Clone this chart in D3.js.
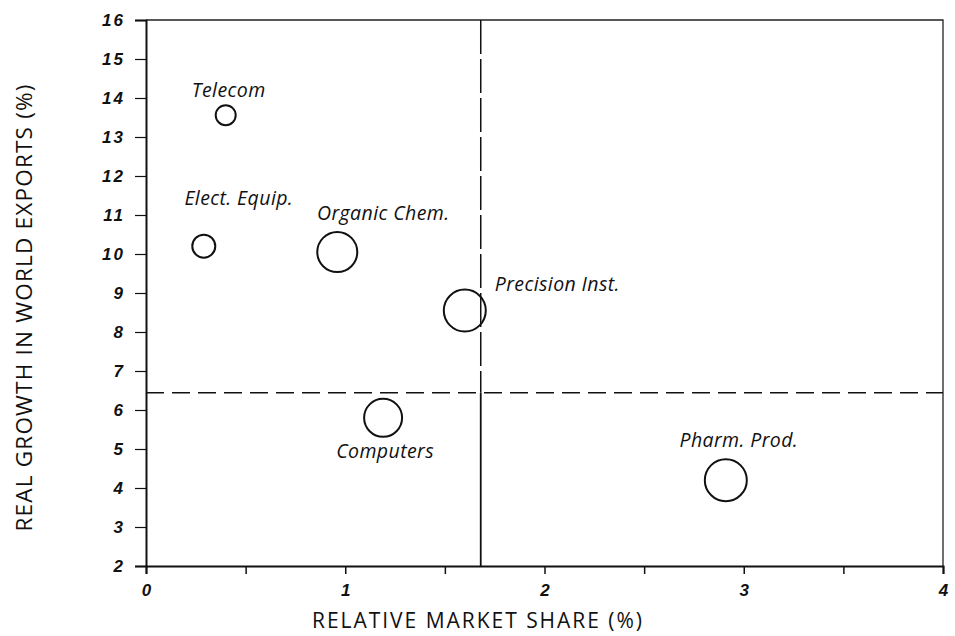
<!DOCTYPE html>
<html>
<head>
<meta charset="utf-8">
<script src="https://cdn.jsdelivr.net/npm/d3@7"></script>
<style>
  body { margin: 0; background: #fff; }
  svg { display: block; }
  .tick text { font-family: "Liberation Sans", Arial, sans-serif; font-weight: bold; font-style: italic; font-size: 17px; fill: #111; }
  .label { font-family: "Open Sans", Lato, sans-serif; font-style: italic; font-size: 19.5px; letter-spacing: 0.4px; fill: #111; }
  .title { font-family: "Open Sans", Lato, sans-serif; fill: #111; }
</style>
</head>
<body>
<div id="chart"></div>
<script>
const categories = ['Telecom', 'Elect. Equip.', 'Organic Chem.', 'Precision Inst.', 'Computers', 'Pharm. Prod.']
const marketShare = [0.40, 0.29, 0.96, 1.60, 1.19, 2.91]
const exportGrowth = [13.56, 10.2, 10.05, 8.55, 5.8, 4.2]
const bubbleSize = [10, 11.5, 20, 21, 19, 21]
const xTicks = [0, 0.5, 1, 1.5, 2, 2.5, 3, 3.5, 4]
const yTicks = [2, 3, 4, 5, 6, 7, 8, 9, 10, 11, 12, 13, 14, 15, 16]
const shareCutoff = 1.68
const growthCutoff = 6.44

// label placement relative to bubble centre
const labelPlace = {
  'Telecom': { dx: 3, dy: -18, anchor: 'middle' },
  'Elect. Equip.': { dx: 35, dy: -41, anchor: 'middle' },
  'Organic Chem.': { dx: 46, dy: -32, anchor: 'middle' },
  'Precision Inst.': { dx: 30, dy: -20, anchor: 'start' },
  'Computers': { dx: 2, dy: 40, anchor: 'middle' },
  'Pharm. Prod.': { dx: 13, dy: -33, anchor: 'middle' }
}

const data = categories.map((name, i) => ({
  name, share: marketShare[i], growth: exportGrowth[i], size: bubbleSize[i]
}))

const width = 955
const height = 636

const svg = d3.select('#chart')
  .append('svg')
  .attr('width', width)
  .attr('height', height)

const x = d3.scaleLinear().domain([0, 4]).range([146, 943])
const y = d3.scaleLinear().domain([2, 16]).range([566, 20])
const r = d3.scaleLinear().domain([0, 21]).range([0, 21])

// frame (top and right)
svg.append('path')
  .attr('d', `M${x(0)},${y(16)}H${x(4)}V${y(2)}`)
  .attr('fill', 'none')
  .attr('stroke', '#222')
  .attr('stroke-width', 1.3)

const yAxis = svg.append('g')
  .attr('transform', `translate(${x(0)},0)`)
  .call(d3.axisLeft(y).tickValues(yTicks).tickSize(11).tickPadding(10).tickFormat(d3.format('d')))
yAxis.select('.domain').attr('stroke', '#111').attr('stroke-width', 2)
yAxis.selectAll('.tick line').attr('stroke', '#111').attr('stroke-width', 1.2)
yAxis.selectAll('.tick text').attr('letter-spacing', '2px')

const xAxis = svg.append('g')
  .attr('transform', `translate(0,${y(2)})`)
  .call(d3.axisBottom(x).tickValues(xTicks).tickSize(8).tickPadding(10)
    .tickFormat(d => Number.isInteger(d) ? d : ''))
xAxis.select('.domain').attr('stroke', '#111').attr('stroke-width', 2)
xAxis.selectAll('.tick line').attr('stroke', '#111').attr('stroke-width', 1.5)

// quadrant dividers
svg.append('line')
  .attr('x1', x(0)).attr('x2', x(4))
  .attr('y1', y(growthCutoff)).attr('y2', y(growthCutoff))
  .attr('stroke', '#111').attr('stroke-width', 1.5)
  .attr('stroke-dasharray', '18,8')

svg.append('line')
  .attr('x1', x(shareCutoff)).attr('x2', x(shareCutoff))
  .attr('y1', y(16)).attr('y2', y(growthCutoff))
  .attr('stroke', '#111').attr('stroke-width', 1.5)
  .attr('stroke-dasharray', '34,5')

svg.append('line')
  .attr('x1', x(shareCutoff)).attr('x2', x(shareCutoff))
  .attr('y1', y(growthCutoff)).attr('y2', y(2))
  .attr('stroke', '#111').attr('stroke-width', 1.8)

// bubbles
svg.selectAll('circle.bubble')
  .data(data)
  .join('circle')
  .attr('class', 'bubble')
  .attr('cx', d => x(d.share))
  .attr('cy', d => y(d.growth))
  .attr('r', d => r(d.size))
  .attr('fill', 'none')
  .attr('stroke', '#111')
  .attr('stroke-width', 2)

svg.selectAll('text.label')
  .data(data)
  .join('text')
  .attr('class', 'label')
  .attr('x', d => x(d.share) + labelPlace[d.name].dx)
  .attr('y', d => y(d.growth) + labelPlace[d.name].dy)
  .attr('text-anchor', d => labelPlace[d.name].anchor)
  .text(d => d.name)

// axis titles
svg.append('text')
  .attr('class', 'title')
  .attr('x', 477)
  .attr('y', 628)
  .attr('text-anchor', 'middle')
  .attr('font-size', 21)
  .attr('textLength', 330)
  .attr('lengthAdjust', 'spacing')
  .text('RELATIVE MARKET SHARE (%)')

svg.append('text')
  .attr('class', 'title')
  .attr('transform', 'translate(32,308) rotate(-90)')
  .attr('text-anchor', 'middle')
  .attr('font-size', 22.5)
  .attr('textLength', 447)
  .attr('lengthAdjust', 'spacing')
  .text('REAL GROWTH IN WORLD EXPORTS (%)')
</script>
</body>
</html>
